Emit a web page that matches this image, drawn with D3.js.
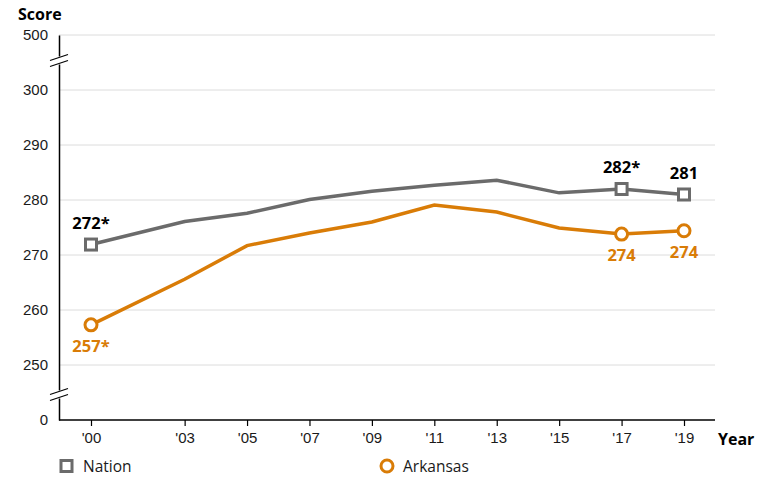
<!DOCTYPE html>
<html>
<head>
<meta charset="utf-8">
<script src="https://cdn.jsdelivr.net/npm/d3@7"></script>
<style>
  body { margin: 0; background: #fff; }
  svg { font-family: "Open Sans", "Noto Sans", sans-serif; }
  .tick text { font-size: 15px; fill: #1a1a1a; }
</style>
</head>
<body>
<div id="vis"></div>
<script>
const years = [2000, 2003, 2005, 2007, 2009, 2011, 2013, 2015, 2017, 2019];
const yearLabels = ["'00", "'03", "'05", "'07", "'09", "'11", "'13", "'15", "'17", "'19"];
const nation = [271.9, 276.1, 277.6, 280.1, 281.6, 282.7, 283.6, 281.3, 282.0, 281.0];
const arkansas = [257.3, 265.6, 271.7, 274.0, 276.0, 279.1, 277.8, 274.9, 273.8, 274.4];
const yTicks = [0, 250, 260, 270, 280, 290, 300, 500];
const gridTicks = [250, 260, 270, 280, 290, 300, 500];
// labelled points: index, text
const nationLabels = [[0, '272*'], [8, '282*'], [9, '281']];
const arkLabels = [[0, '257*'], [8, '274'], [9, '274']];
const markerIdx = [0, 8, 9];

const W = 772, H = 478;
const left = 59, right = 715;
const grey = '#6b6b6b', orange = '#d97c07';

const svg = d3.select('#vis').append('svg')
    .attr('width', W)
    .attr('height', H);

const x = d3.scaleLinear().domain([2000, 2019]).range([91, 684]);
// broken axis: 0 and 500 squeezed
const y = d3.scaleLinear().domain([0, 250, 300, 500]).range([420, 365, 90, 35]);

// gridlines
svg.append('g')
    .selectAll('line')
    .data(gridTicks)
    .join('line')
    .attr('x1', left).attr('x2', right)
    .attr('y1', d => y(d)).attr('y2', d => y(d))
    .attr('stroke', '#dcdcdc')
    .attr('stroke-width', 1);

// y axis
const yAxis = svg.append('g')
    .attr('transform', `translate(${left},0)`)
    .call(d3.axisLeft(y).tickValues(yTicks).tickSize(0).tickPadding(11));
yAxis.select('.domain').attr('stroke', '#000').attr('stroke-width', 1.5);

// x axis
const xAxis = svg.append('g')
    .attr('transform', `translate(0,${y(0)})`)
    .call(d3.axisBottom(x).tickValues(years).tickFormat((d, i) => yearLabels[i]).tickSize(6).tickPadding(6));
xAxis.select('.domain').attr('d', `M${left},0H${right}`).attr('stroke', '#000').attr('stroke-width', 1.5);
xAxis.selectAll('.tick line').attr('stroke', '#000').attr('stroke-width', 1.2);

// axis breaks
[(y(0) + y(250)) / 2 + 2, (y(300) + y(500)) / 2 - 2].forEach(by => {
    svg.append('rect').attr('x', left - 3).attr('y', by - 4).attr('width', 6).attr('height', 8).attr('fill', '#fff');
    [-3, 3].forEach(o => {
        svg.append('line')
            .attr('x1', left - 9).attr('y1', by + o + 3)
            .attr('x2', left + 9).attr('y2', by + o - 3)
            .attr('stroke', '#000').attr('stroke-width', 1.2);
    });
});

// titles
svg.append('text').attr('x', 18).attr('y', 20).text('Score')
    .attr('font-size', 16).attr('font-weight', 'bold').attr('fill', '#000');
svg.append('text').attr('x', 718).attr('y', y(0) + 25).text('Year')
    .attr('font-size', 16).attr('font-weight', 'bold').attr('fill', '#000');

const line = d3.line().x((d, i) => x(years[i])).y(d => y(d));

svg.append('path').datum(nation)
    .attr('d', line).attr('fill', 'none').attr('stroke', grey).attr('stroke-width', 3.5);
svg.append('path').datum(arkansas)
    .attr('d', line).attr('fill', 'none').attr('stroke', orange).attr('stroke-width', 3.5);

// markers
svg.append('g').selectAll('rect')
    .data(markerIdx)
    .join('rect')
    .attr('x', i => x(years[i]) - 5.5).attr('y', i => y(nation[i]) - 5.5)
    .attr('width', 11).attr('height', 11)
    .attr('fill', '#fff').attr('stroke', grey).attr('stroke-width', 3);
svg.append('g').selectAll('circle')
    .data(markerIdx)
    .join('circle')
    .attr('cx', i => x(years[i])).attr('cy', i => y(arkansas[i]))
    .attr('r', 6)
    .attr('fill', '#fff').attr('stroke', orange).attr('stroke-width', 3);

// value labels
svg.append('g').selectAll('text')
    .data(nationLabels)
    .join('text')
    .attr('x', d => x(years[d[0]]))
    .attr('y', d => y(nation[d[0]]) - 16)
    .attr('text-anchor', 'middle')
    .attr('font-size', 16.5).attr('font-weight', 'bold').attr('fill', '#000')
    .text(d => d[1]);
svg.append('g').selectAll('text')
    .data(arkLabels)
    .join('text')
    .attr('x', d => x(years[d[0]]))
    .attr('y', d => y(arkansas[d[0]]) + 27)
    .attr('text-anchor', 'middle')
    .attr('font-size', 16.5).attr('font-weight', 'bold').attr('fill', orange)
    .text(d => d[1]);

// legend
const legY = 466;
svg.append('rect').attr('x', 61).attr('y', legY - 5.5).attr('width', 11).attr('height', 11)
    .attr('fill', '#fff').attr('stroke', grey).attr('stroke-width', 3);
svg.append('text').attr('x', 83).attr('y', legY + 5.5).text('Nation')
    .attr('font-size', 15.5).attr('fill', '#1a1a1a');
svg.append('circle').attr('cx', 387).attr('cy', legY).attr('r', 6)
    .attr('fill', '#fff').attr('stroke', orange).attr('stroke-width', 3);
svg.append('text').attr('x', 403).attr('y', legY + 5.5).text('Arkansas')
    .attr('font-size', 15.5).attr('fill', '#1a1a1a');
</script>
</body>
</html>
